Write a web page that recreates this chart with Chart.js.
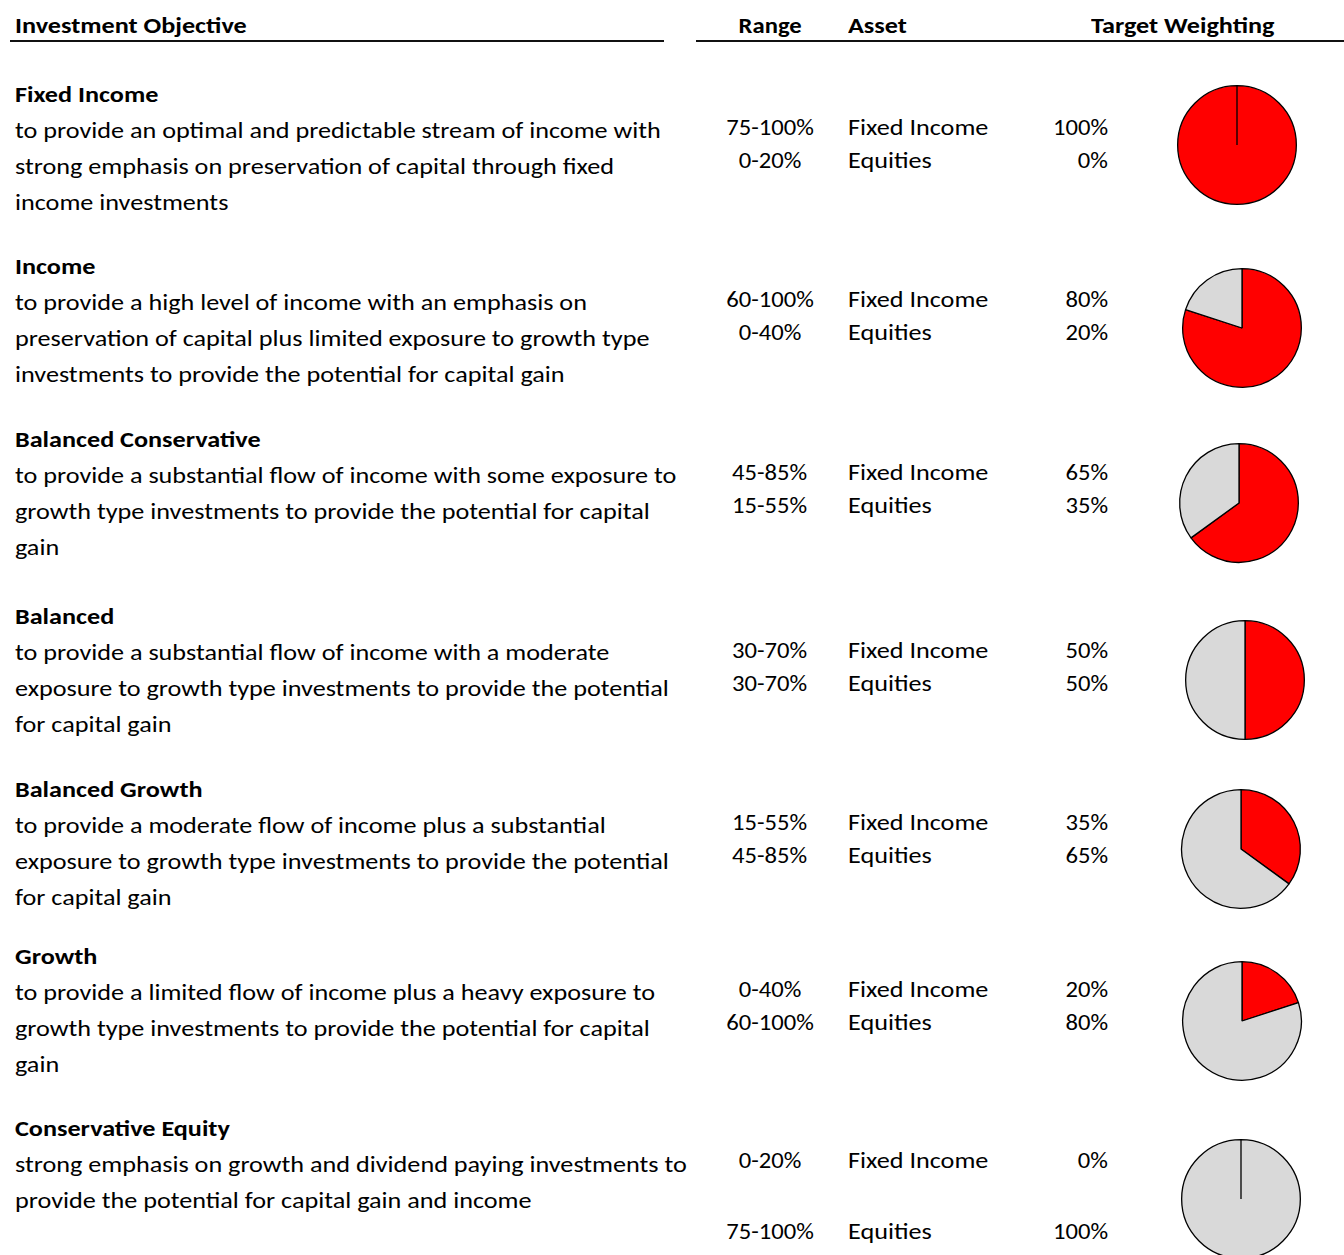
<!DOCTYPE html>
<html>
<head>
<meta charset="utf-8">
<script src="https://cdn.jsdelivr.net/npm/chart.js@4"></script>
<style>
  body { margin: 0; background: #fff; width: 1344px; height: 1255px; overflow: hidden; position: relative;
         font-family: Carlito, Lato, "Open Sans", sans-serif; font-size: 22px; color: #000; }
  .t { position: absolute; white-space: nowrap; line-height: 36px; }
  .t span { display: inline-block; transform: scaleX(1.19); transform-origin: left center; }
  .b { font-weight: bold; }
  .c { text-align: center; width: 120px; }
  .c span { transform: scaleX(1.12); transform-origin: center center; }
  .r { text-align: right; width: 100px; }
  .r span { transform: scaleX(1.12); transform-origin: right center; }
  .rule { position: absolute; height: 2px; background: #111; top: 40px; }
  canvas { position: absolute; }
</style>
</head>
<body>
<div class="t b" style="left:15px;top:8px"><span>Investment Objective</span></div>
<div class="t b c" style="left:710px;top:8px"><span>Range</span></div>
<div class="t b" style="left:848px;top:8px"><span>Asset</span></div>
<div class="t b" style="left:1091px;top:8px"><span>Target Weighting</span></div>
<div class="rule" style="left:10px;width:654px"></div>
<div class="rule" style="left:696px;width:648px"></div>
<div id="rows"></div>
<script>
// data
const objectives = ['Fixed Income', 'Income', 'Balanced Conservative', 'Balanced', 'Balanced Growth', 'Growth', 'Conservative Equity'];
const descriptions = [
  ['to provide an optimal and predictable stream of income with', 'strong emphasis on preservation of capital through fixed', 'income investments'],
  ['to provide a high level of income with an emphasis on', 'preservation of capital plus limited exposure to growth type', 'investments to provide the potential for capital gain'],
  ['to provide a substantial flow of income with some exposure to', 'growth type investments to provide the potential for capital', 'gain'],
  ['to provide a substantial flow of income with a moderate', 'exposure to growth type investments to provide the potential', 'for capital gain'],
  ['to provide a moderate flow of income plus a substantial', 'exposure to growth type investments to provide the potential', 'for capital gain'],
  ['to provide a limited flow of income plus a heavy exposure to', 'growth type investments to provide the potential for capital', 'gain'],
  ['strong emphasis on growth and dividend paying investments to', 'provide the potential for capital gain and income']
];
const assets = ['Fixed Income', 'Equities'];
const fixedRange = ['75-100%', '60-100%', '45-85%', '30-70%', '15-55%', '0-40%', '0-20%'];
const equityRange = ['0-20%', '0-40%', '15-55%', '30-70%', '45-85%', '60-100%', '75-100%'];
const fixedWeight = [100, 80, 65, 50, 35, 20, 0];
const equityWeight = [0, 20, 35, 50, 65, 80, 100];

// layout
const titleY = [95, 267, 440, 617, 790, 957, 1129];
const rangeY = [128, 300, 473, 651, 823, 990, 1161];
const equityGap = [33, 33, 33, 33, 33, 33, 71];
const pieX = [1237, 1242, 1239, 1245, 1241, 1242, 1241];
const pieY = [145, 328, 503, 680, 849, 1021, 1199];
const pieD = 118;

const rows = document.getElementById('rows');
function addText(txt, cls, x, yc) {
  const d = document.createElement('div');
  d.className = 't ' + cls;
  const s = document.createElement('span');
  s.textContent = txt;
  d.appendChild(s);
  d.style.left = x + 'px';
  d.style.top = (yc - 18) + 'px';
  rows.appendChild(d);
}

objectives.forEach((name, i) => {
  addText(name, 'b', 15, titleY[i]);
  descriptions[i].forEach((line, k) => addText(line, '', 15, titleY[i] + 36 * (k + 1)));
  const y2 = rangeY[i] + equityGap[i];
  addText(fixedRange[i], 'c', 710, rangeY[i]);
  addText(equityRange[i], 'c', 710, y2);
  addText(assets[0], '', 848, rangeY[i]);
  addText(assets[1], '', 848, y2);
  addText(fixedWeight[i] + '%', 'r', 1008, rangeY[i]);
  addText(equityWeight[i] + '%', 'r', 1008, y2);

  const cv = document.createElement('canvas');
  const size = pieD + 6;
  cv.width = size; cv.height = size;
  cv.style.left = (pieX[i] - size / 2) + 'px';
  cv.style.top = (pieY[i] - size / 2) + 'px';
  document.body.appendChild(cv);
  new Chart(cv.getContext('2d'), {
    type: 'pie',
    data: {
      labels: assets,
      datasets: [{
        data: [fixedWeight[i], equityWeight[i]],
        backgroundColor: ['#FF0000', '#D9D9D9'],
        borderColor: '#000000',
        borderWidth: 1.3
      }]
    },
    options: {
      responsive: false,
      animation: false,
      layout: { padding: 2 },
      plugins: { legend: { display: false }, tooltip: { enabled: false } }
    }
  });
});
</script>
</body>
</html>
